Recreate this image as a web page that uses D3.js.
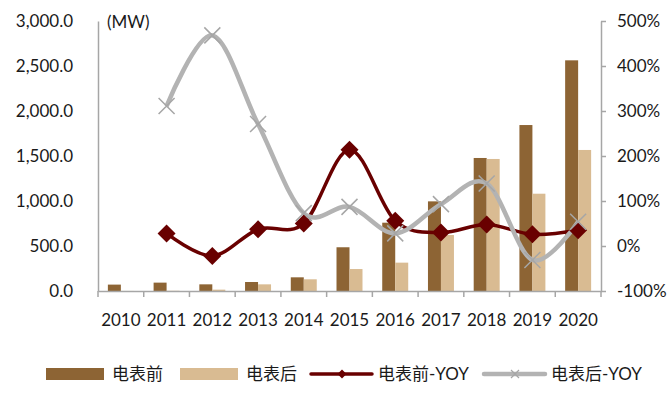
<!DOCTYPE html>
<html>
<head>
<meta charset="utf-8">
<script src="https://cdn.jsdelivr.net/npm/d3@7"></script>
<style>
  body { margin: 0; background: #fff; }
  svg { display: block; }
</style>
</head>
<body>
<div id="chart"></div>
<script>
// data
const years = ["2010", "2011", "2012", "2013", "2014", "2015", "2016", "2017", "2018", "2019", "2020"];
const preMeter = [71, 93, 74, 100, 152, 486, 759, 996, 1478, 1844, 2563];      // 电表前 (MW)
const postMeter = [0.6, 2.6, 15, 74, 130, 244, 315, 622, 1467, 1081, 1567];    // 电表后 (MW)
const preYoy = [null, 28, -22, 37, 50, 214, 56, 30, 48, 26, 35];               // 电表前-YOY (%)
const postYoy = [null, 311, 468, 271, 73, 87, 28, 93, 139, -31, 54];          // 电表后-YOY (%)
const leftTicks = [0, 500, 1000, 1500, 2000, 2500, 3000];
const rightTicks = [-100, 0, 100, 200, 300, 400, 500];

const width = 671, height = 394;
const plot = { left: 98, right: 601, top: 21, bottom: 291 };
const font = "Lato, 'Noto Sans CJK SC', sans-serif";
const colPre = "#8d6434", colPost = "#d9bb92", colPreLine = "#690000", colPostLine = "#b3b3b3", colAxis = "#a6a6a6";

const svg = d3.select("#chart").append("svg")
    .attr("width", width).attr("height", height)
    .style("font-family", font);

const x = d3.scaleBand().domain(years).range([plot.left, plot.right]);
const x1 = d3.scaleBand().domain(["pre", "post"]).range([0, x.bandwidth()]).paddingOuter(0.76);
const yL = d3.scaleLinear().domain([0, 3000]).range([plot.bottom, plot.top]);
const yR = d3.scaleLinear().domain([-100, 500]).range([plot.bottom, plot.top]);
const cx = d => x(d) + x.bandwidth() / 2;

// bars
const barData = years.map((yr, i) => ({ yr, pre: preMeter[i], post: postMeter[i] }));
const groups = svg.append("g").selectAll("g").data(barData).join("g")
    .attr("transform", d => `translate(${x(d.yr)},0)`);
groups.append("rect")
    .attr("x", x1("pre")).attr("width", x1.bandwidth())
    .attr("y", d => yL(d.pre)).attr("height", d => yL(0) - yL(d.pre))
    .attr("fill", colPre);
groups.append("rect")
    .attr("x", x1("post")).attr("width", x1.bandwidth())
    .attr("y", d => yL(d.post)).attr("height", d => yL(0) - yL(d.post))
    .attr("fill", colPost);

// axes
const axL = svg.append("g").attr("transform", `translate(${plot.left},0)`)
    .call(d3.axisLeft(yL).tickValues(leftTicks).tickFormat(d3.format(",.1f")).tickSize(0).tickPadding(25).tickSizeOuter(0));
const axR = svg.append("g").attr("transform", `translate(${plot.right},0)`)
    .call(d3.axisRight(yR).tickValues(rightTicks).tickFormat(d => d + "%").tickSize(5).tickPadding(11).tickSizeOuter(0));
const axB = svg.append("g").attr("transform", `translate(0,${plot.bottom})`)
    .call(d3.axisBottom(x).tickSize(0).tickPadding(23).tickSizeOuter(0));

[axL, axR, axB].forEach(a => {
    a.select(".domain").attr("stroke", colAxis).attr("stroke-width", 1.5);
    a.selectAll(".tick line").attr("stroke", colAxis).attr("stroke-width", 1.5);
    a.selectAll("text").attr("fill", "#1a1a1a").style("font-size", "17px").style("font-family", font);
});

// category separators on the bottom axis
const sepX = years.map(d => x(d)).concat([x.range()[1]]);
svg.append("g").selectAll("line").data(sepX).join("line")
    .attr("x1", d => d).attr("x2", d => d)
    .attr("y1", plot.bottom).attr("y2", plot.bottom + 6)
    .attr("stroke", colAxis).attr("stroke-width", 1.5);

svg.append("text").attr("x", 107).attr("y", 28)
    .style("font-size", "17px").attr("fill", "#1a1a1a").text("(MW)");

// YOY lines
const preLine = years.map((yr, i) => ({ yr, v: preYoy[i] })).filter(d => d.v != null);
const postLine = years.map((yr, i) => ({ yr, v: postYoy[i] })).filter(d => d.v != null);
const line = d3.line().x(d => cx(d.yr)).y(d => yR(d.v)).curve(d3.curveCardinal.tension(0));

svg.append("path").datum(preLine).attr("d", line)
    .attr("fill", "none").attr("stroke", colPreLine).attr("stroke-width", 3.5);
svg.append("path").datum(postLine).attr("d", line)
    .attr("fill", "none").attr("stroke", colPostLine).attr("stroke-width", 4.5);

const diamond = s => `M0,${-s}L${s},0L0,${s}L${-s},0Z`;
const cross = s => `M${-s},${-s}L${s},${s}M${-s},${s}L${s},${-s}`;

svg.append("g").selectAll("path").data(preLine).join("path")
    .attr("transform", d => `translate(${cx(d.yr)},${yR(d.v)})`)
    .attr("d", diamond(9)).attr("fill", colPreLine);
svg.append("g").selectAll("path").data(postLine).join("path")
    .attr("transform", d => `translate(${cx(d.yr)},${yR(d.v)})`)
    .attr("d", cross(8)).attr("fill", "none").attr("stroke", "#a6a6a6").attr("stroke-width", 1.5);

// legend
const leg = svg.append("g").attr("transform", "translate(0,374)");
const legItems = [
    { label: "电表前", type: "rect", color: colPre, x: 46 },
    { label: "电表后", type: "rect", color: colPost, x: 180 },
    { label: "电表前-YOY", type: "pre", color: colPreLine, x: 311 },
    { label: "电表后-YOY", type: "post", color: colPostLine, x: 484 }
];
legItems.forEach(d => {
    const g = leg.append("g").attr("transform", `translate(${d.x},0)`);
    if (d.type === "rect") {
        g.append("rect").attr("x", 0).attr("y", -6).attr("width", 58).attr("height", 12).attr("fill", d.color);
    } else {
        g.append("line").attr("x1", 0).attr("x2", 61).attr("stroke", d.color)
            .attr("stroke-width", d.type === "pre" ? 3.5 : 4.5).attr("stroke-linecap", "round");
        if (d.type === "pre") {
            g.append("path").attr("transform", "translate(31,0)").attr("d", diamond(4.5)).attr("fill", d.color);
        } else {
            g.append("path").attr("transform", "translate(31,0)").attr("d", cross(4))
                .attr("stroke", "#a6a6a6").attr("stroke-width", 1.2).attr("fill", "none");
        }
    }
    g.append("text").attr("x", d.type === "rect" ? 66 : 67).attr("y", 0).attr("dy", "0.36em")
        .style("font-size", "17px").attr("fill", "#1a1a1a").text(d.label);
});
</script>
</body>
</html>
